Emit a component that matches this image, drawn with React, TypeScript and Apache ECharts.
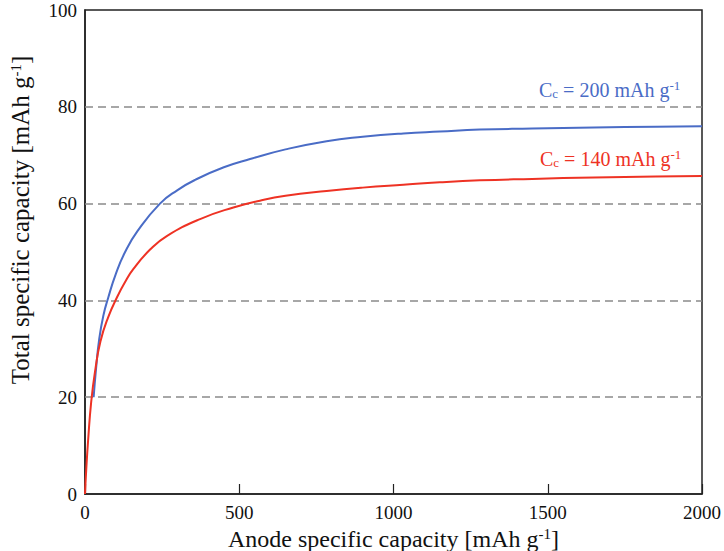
import React, { useEffect, useRef } from "react";
import * as echarts from "echarts";

const blueX = [28, 36, 46, 60, 75, 100, 130, 170, 243, 300, 357, 450, 535, 650, 783, 900, 1032, 1150, 1280, 1450, 1650, 1850, 2000];
const blueY = [20, 26, 32, 37, 40.5, 45.5, 50, 54.3, 60, 62.8, 64.9, 67.5, 69.2, 71.2, 72.9, 73.8, 74.5, 74.9, 75.3, 75.5, 75.7, 75.9, 76];
const redX = [0, 4, 10, 20, 33, 50, 75, 105, 130, 157, 211, 265, 373, 481, 567, 650, 783, 900, 1032, 1150, 1280, 1450, 1650, 1850, 2000];
const redY = [0, 5, 11, 19, 25.5, 31.5, 36.5, 40.8, 43.8, 46.5, 50.5, 53.3, 56.8, 59.2, 60.6, 61.6, 62.6, 63.3, 63.9, 64.4, 64.8, 65.1, 65.4, 65.6, 65.7];
const gridValues = [20, 40, 60, 80];
const xTicks = { min: 0, max: 2000, interval: 500 };
const yTicks = { min: 0, max: 100, interval: 20 };
const blueLabel = "C{sub|c} = 200 mAh g{sup|-1}";
const redLabel = "C{sub|c} = 140 mAh g{sup|-1}";
const xTitle = "{t|Anode specific capacity [mAh g}{sup|-1}{t|]}";
const yTitle = "{t|Total specific capacity [mAh g}{sup|-1}{t|]}";

const FONT = "Liberation Serif, Times New Roman, serif";
const BLUE = "#4a6cc6";
const RED = "#ee3224";
const INK = "#111";

export default function App() {
  const ref = useRef<HTMLDivElement>(null);
  useEffect(() => {
    if (!ref.current) return;
    const chart = echarts.init(ref.current, undefined, { renderer: "svg" });
    const richTitle = (size: number) => ({
      t: { fontSize: size, fontFamily: FONT, color: INK },
      sup: { fontSize: 15, fontFamily: FONT, color: INK, padding: [0, 0, 9, 0] },
    });
    const richLabel = { n: { fontSize: 19, fontFamily: FONT, color: INK } };
    const annRich = (color: string) => ({
      sub: { fontSize: 13, fontFamily: FONT, color, padding: [8, 0, 0, 0] },
      sup: { fontSize: 13, fontFamily: FONT, color, padding: [0, 0, 8, 0] },
    });
    chart.setOption({
      animation: false,
      backgroundColor: "#fff",
      textStyle: { fontFamily: FONT },
      grid: {
        left: 85,
        right: 22,
        top: 10,
        bottom: 57,
        outerBoundsMode: "none",
        containLabel: false,
        show: true,
        borderColor: "#222",
        borderWidth: 1.5,
        backgroundColor: "transparent",
      },
      xAxis: {
        type: "value",
        min: xTicks.min,
        max: xTicks.max,
        interval: xTicks.interval,
        name: xTitle,
        nameLocation: "middle",
        nameGap: 26,
        nameTextStyle: { fontSize: 24, fontFamily: FONT, color: INK, rich: richTitle(24) },
        axisLine: { show: true, lineStyle: { color: "#222", width: 1.5 } },
        axisTick: { show: true, inside: true, length: 10, lineStyle: { color: "#222", width: 1.2 } },
        axisLabel: {
          fontSize: 19,
          fontFamily: FONT,
          color: INK,
          margin: 9,
          rich: richLabel,
          formatter: (v: number) => `{n|${v}}`,
        },
        splitLine: { show: false },
      },
      yAxis: {
        type: "value",
        min: yTicks.min,
        max: yTicks.max,
        interval: yTicks.interval,
        name: yTitle,
        nameLocation: "middle",
        nameGap: 52,
        nameTextStyle: { fontSize: 25, fontFamily: FONT, color: INK, rich: richTitle(25), padding: [0, 0, 0, 64] },
        axisLine: { show: true, lineStyle: { color: "#222", width: 1.5 } },
        axisTick: { show: false },
        axisLabel: {
          fontSize: 19,
          fontFamily: FONT,
          color: INK,
          margin: 8,
          rich: richLabel,
          formatter: (v: number) => `{n|${v}}`,
        },
        splitLine: { show: false },
      },
      series: [
        {
          type: "line",
          data: blueX.map((x, i) => [x, blueY[i]]),
          showSymbol: false,
          symbol: "none",
          smooth: 0.5,
          lineStyle: { color: BLUE, width: 2 },
          z: 3,
          markLine: {
            silent: true,
            symbol: "none",
            label: { show: false },
            lineStyle: { type: [8, 5], color: "#8a8a8a", width: 1.5 },
            data: gridValues.map((v) => ({ yAxis: v })),
            z: 1,
          },
        },
        {
          type: "line",
          data: redX.map((x, i) => [x, redY[i]]),
          showSymbol: false,
          symbol: "none",
          smooth: 0.5,
          lineStyle: { color: RED, width: 2 },
          z: 3,
        },
      ],
      graphic: [
        {
          type: "text",
          left: 539,
          top: 79,
          style: { text: blueLabel, fontSize: 20, fontFamily: FONT, fill: BLUE, rich: annRich(BLUE) },
        },
        {
          type: "text",
          left: 540,
          top: 148,
          style: { text: redLabel, fontSize: 20, fontFamily: FONT, fill: RED, rich: annRich(RED) },
        },
      ],
    });
    return () => chart.dispose();
  }, []);
  return <div ref={ref} style={{ width: 724, height: 551, position: "absolute", left: 0, top: 0 }} />;
}
